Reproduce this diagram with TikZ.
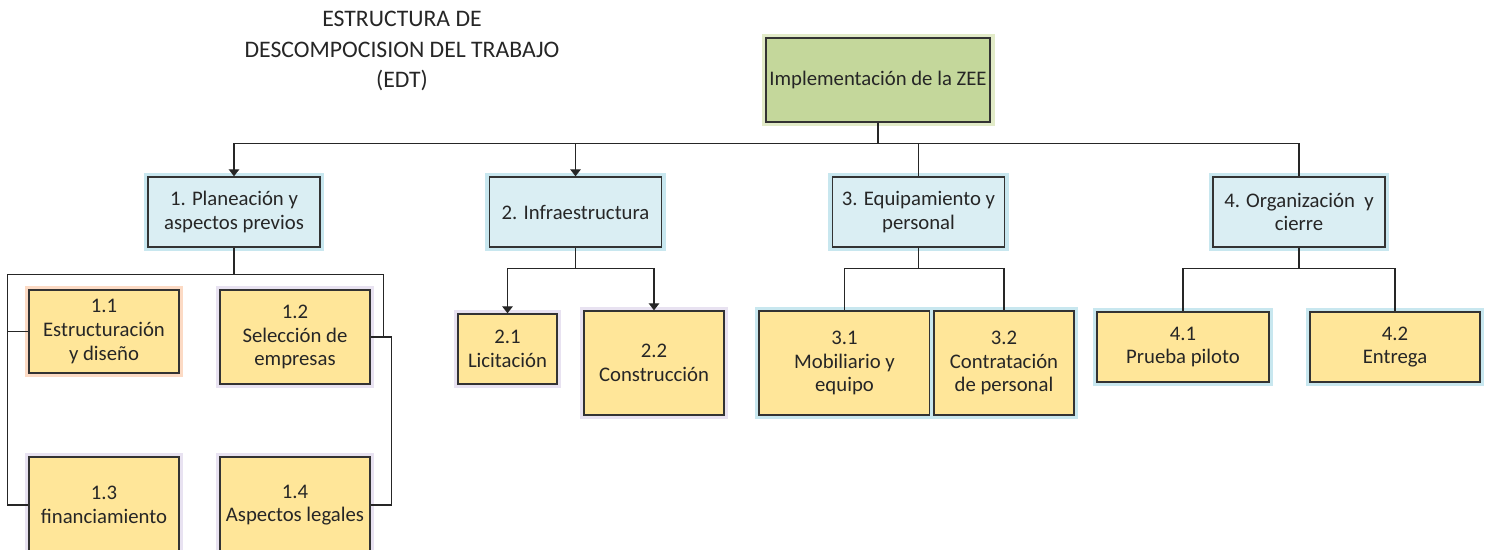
\documentclass[tikz,border=0pt]{standalone}
\usepackage{fontspec}
\setmainfont{Carlito}
\usepackage{xcolor}
\usetikzlibrary{arrows.meta}
\definecolor{rootfill}{HTML}{C4D79B}
\definecolor{rootglow}{HTML}{E2EBC8}
\definecolor{bluefill}{HTML}{DAEEF3}
\definecolor{blueglow}{HTML}{C8E7EF}
\definecolor{yelfill}{HTML}{FFE699}
\definecolor{orglow}{HTML}{FCDAC4}
\definecolor{lavglow}{HTML}{E8E2F1}
\definecolor{txt}{HTML}{262626}

\begin{document}
\begin{tikzpicture}[x=0.02cm,y=-0.02cm,
  box/.style={draw=black!80,line width=0.8pt,align=center,text=txt,
    font=\fontsize{11.8}{13.4}\selectfont,inner sep=2pt},
  glow/.style={preaction={draw=#1,line width=5pt}},
  wbsroot/.style={box,fill=rootfill,glow=rootglow,minimum width=4.48cm,minimum height=1.68cm},
  phase/.style={box,fill=bluefill,glow=blueglow,minimum width=3.44cm,minimum height=1.4cm},
  task/.style={box,fill=yelfill},
  link/.style={line width=0.8pt,draw=black!85},
  arr/.style={link,-{Triangle[width=6pt,length=4pt]}}]
\useasboundingbox (0,0) rectangle (1486,550);

\node[align=center,text=txt,font=\fontsize{13.5}{17.5}\selectfont] (title) at (402,51)
  {ESTRUCTURA DE\\DESCOMPOCISION DEL TRABAJO\\(EDT)};

\node[wbsroot] (root) at (878,80) {Implementación de la ZEE};

\node[phase] (p1) at (234,212) {1. Planeación y\\aspectos previos};
\node[phase] (p2) at (575.5,212) {2. Infraestructura};
\node[phase] (p3) at (918.5,212) {3. Equipamiento y\\personal};
\node[phase] (p4) at (1299,212) {4. Organización\ \ y\\cierre};

\node[task,glow=orglow,minimum width=3cm,minimum height=1.66cm] (p11) at (104,331.5) {1.1\\Estructuración\\y diseño};
\node[task,glow=lavglow,minimum width=3cm,minimum height=1.88cm] (p12) at (295,337) {1.2\\Selección de\\empresas};
\node[task,glow=lavglow,minimum width=3cm,minimum height=1.92cm] (p13) at (104,505) {1.3\\financiamiento};
\node[task,glow=lavglow,minimum width=3cm,minimum height=1.92cm] (p14) at (295,505) {1.4\\Aspectos legales};

\node[task,glow=lavglow,minimum width=1.98cm,minimum height=1.4cm] (p21) at (507.5,349) {2.1\\Licitación};
\node[task,glow=lavglow,minimum width=2.8cm,minimum height=2.08cm] (p22) at (654,363) {2.2\\Construcción};

\node[task,glow=blueglow,minimum width=3.42cm,minimum height=2.08cm] (p31) at (844.5,363) {3.1\\Mobiliario y\\equipo};
\node[task,glow=blueglow,minimum width=2.8cm,minimum height=2.08cm] (p32) at (1004,363) {3.2\\Contratación\\de personal};

\node[task,glow=blueglow,minimum width=3.44cm,minimum height=1.4cm] (p41) at (1183,347) {4.1\\Prueba piloto};
\node[task,glow=blueglow,minimum width=3.4cm,minimum height=1.4cm] (p42) at (1395,347) {4.2\\Entrega};

% top level
\draw[arr] (root.south) -- ++(0,21) -| (p1.north);
\draw[arr] (root.south) -- ++(0,21) -| (p2.north);
\draw[link] (root.south) -- ++(0,21) -| (p3.north);
\draw[link] (root.south) -- ++(0,21) -| (p4.north);

% phase 1
\draw[link] (p1.south) -- ++(0,27) -| ([xshift=-0.42cm]p13.west) -- (p13.west);
\draw[link] ([xshift=-0.42cm]p11.west) -- (p11.west);
\draw[link] (p1.south) -- ++(0,27) -| ([xshift=0.26cm]p12.east);
\draw[link] (p12.east) -- ++(21,0) |- (p14.east);

% phase 2
\draw[arr] (p2.south) -- ++(0,21) -| (p21.north);
\draw[arr] (p2.south) -- ++(0,21) -| (p22.north);

% phase 3
\draw[link] (p3.south) -- ++(0,21) -| (p31.north);
\draw[link] (p3.south) -- ++(0,21) -| (p32.north);

% phase 4
\draw[link] (p4.south) -- ++(0,21) -| (p41.north);
\draw[link] (p4.south) -- ++(0,21) -| (p42.north);
\end{tikzpicture}
\end{document}
